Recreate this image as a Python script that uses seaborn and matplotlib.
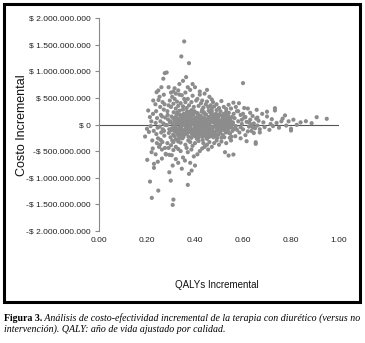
import matplotlib
matplotlib.use("Agg")
import matplotlib.pyplot as plt
import seaborn as sns
import pandas as pd
from matplotlib.patches import Rectangle
from matplotlib.ticker import FuncFormatter

# ---- data: (QALYs incremental, costo incremental in millones) ----
pts_left = [
    (0.192, -226), (0.201, -664), (0.2125, -1072), (0.22, -1378), (0.205, 263), (0.212, 140),
    (0.200, -81), (0.215, -30), (0.218, 60), (0.208, -140), (0.222, -300), (0.226, 451),
    (0.225, 200), (0.228, -120), (0.229, -739), (0.229, -814), (0.224, -450), (0.219, -520),
    (0.240, 607), (0.247, 639), (0.247, -1241), (0.235, 380), (0.238, 250), (0.242, 120),
    (0.236, 30), (0.244, -60), (0.239, -180), (0.246, -260), (0.241, -350), (0.250, -420),
    (0.236, -560), (0.252, 520), (0.255, 330), (0.258, 180), (0.256, 60), (0.253, -40),
    (0.259, -150), (0.257, -290), (0.254, -380), (0.262, -470), (0.268, 860), (0.274, 965),
    (0.282, 977), (0.265, 420), (0.270, 280), (0.263, 150), (0.268, 20), (0.266, -90),
    (0.272, -210), (0.264, -330), (0.275, -440), (0.278, -551), (0.279, -564), (0.270, 560),
    (0.276, 130), (0.277, -10), (0.248, 460), (0.245, -700), (0.260, 700), (0.262, -640),
    (0.273, 380), (0.271, -120),
]
pts_core = [
    (0.283, -12), (0.288, 95), (0.291, -160), (0.296, 40), (0.298, -240), (0.302, 150), (0.304, -70),
    (0.307, 10), (0.309, -190), (0.311, 230), (0.314, -120), (0.316, 70), (0.318, -30), (0.321, -280),
    (0.323, 180), (0.326, -90), (0.328, 110), (0.331, -210), (0.333, 20), (0.336, 260), (0.338, -150),
    (0.341, 60), (0.343, -50), (0.346, 140), (0.348, -260), (0.351, -110), (0.353, 200), (0.356, -10),
    (0.358, 90), (0.361, -180), (0.363, 30), (0.366, 240), (0.368, -70), (0.371, 150), (0.373, -230),
    (0.376, -20), (0.378, 100), (0.381, -140), (0.383, 50), (0.386, 270), (0.388, -90), (0.391, 10),
    (0.393, 180), (0.396, -200), (0.398, -40), (0.401, 120), (0.403, -120), (0.406, 60), (0.408, -270),
    (0.411, 210), (0.413, -10), (0.416, 90), (0.418, -160), (0.421, 30), (0.423, 160), (0.426, -80),
    (0.428, 240), (0.431, -220), (0.433, 0), (0.436, 110), (0.438, -130), (0.441, 50), (0.443, -50),
    (0.446, 190), (0.448, -190), (0.451, 80), (0.453, -20), (0.456, 140), (0.458, -110), (0.461, 20),
    (0.463, 230), (0.466, -160), (0.468, 60), (0.471, -60), (0.473, 170), (0.476, -240), (0.478, 100),
    (0.481, -30), (0.483, 40), (0.486, -140), (0.488, 200), (0.491, -80), (0.493, 10), (0.496, 130),
    (0.498, -190), (0.501, 70), (0.503, -40), (0.506, 250), (0.508, -110), (0.511, 30), (0.513, 160),
    (0.516, -200), (0.518, 90), (0.521, -60), (0.523, 0), (0.526, 180), (0.528, -150), (0.531, 50),
    (0.533, -20), (0.536, 110), (0.538, -90), (0.541, 220), (0.543, 20), (0.546, -170), (0.548, 70),
    (0.551, -50), (0.553, 140), (0.556, -120), (0.558, 40), (0.561, 200),
    (0.286, 180), (0.293, -90), (0.299, 60), (0.305, -300), (0.310, 120), (0.317, -50), (0.322, 30),
    (0.327, -170), (0.332, 190), (0.337, -100), (0.342, -20), (0.347, 70), (0.352, -230), (0.357, 150),
    (0.362, -60), (0.367, 80), (0.372, -300), (0.377, 190), (0.382, 0), (0.387, -170), (0.392, 100),
    (0.397, 250), (0.402, -80), (0.407, 20), (0.412, -200), (0.417, 170), (0.422, -40), (0.427, 70),
    (0.432, -290), (0.437, 230), (0.442, -110), (0.447, 10), (0.452, -170), (0.457, 260), (0.462, -70),
    (0.467, 150), (0.472, -200), (0.477, 40), (0.482, 120), (0.487, -40), (0.492, -250), (0.497, 70),
    (0.502, 190), (0.507, -130), (0.512, -10), (0.517, 120), (0.522, -240), (0.527, 60), (0.532, -110),
    (0.537, 170), (0.542, -60), (0.547, 100), (0.552, -230), (0.557, 10), (0.562, -80),
    (0.300, -110), (0.315, -220), (0.325, 90), (0.335, -260), (0.345, -160), (0.355, 60), (0.365, -130),
    (0.375, 50), (0.385, -250), (0.395, 40), (0.405, -150), (0.415, -90), (0.425, -190), (0.435, -60),
    (0.445, -230), (0.455, -60), (0.465, 90), (0.475, -120), (0.485, -200), (0.495, -10),
    (0.340, 130), (0.360, 170), (0.380, -80), (0.400, -220), (0.420, 100), (0.440, 120), (0.460, -230),
    (0.480, 190), (0.500, -70), (0.520, 100),
]
pts_dense = [
    (0.318, 130), (0.322, -140), (0.329, 40), (0.334, -60), (0.339, 180), (0.344, -200), (0.349, 10),
    (0.354, 110), (0.359, -90), (0.364, 200), (0.369, -160), (0.374, 120), (0.379, -40), (0.384, 160),
    (0.389, -200), (0.394, 80), (0.399, 20), (0.404, -180), (0.409, 140), (0.414, -60), (0.419, 60),
    (0.424, -130), (0.429, 130), (0.434, -20), (0.439, 200), (0.444, -170), (0.449, 30), (0.454, -120),
    (0.459, 90), (0.464, -30), (0.469, -110), (0.474, 80), (0.479, -160), (0.484, 150), (0.489, 0),
    (0.494, -110), (0.499, 160), (0.504, -160), (0.509, 80), (0.514, -70), (0.519, 200), (0.524, -110),
    (0.529, 130), (0.534, 60), (0.539, -150), (0.544, 120), (0.549, -10),
    (0.326, 230), (0.336, 90), (0.346, -110), (0.356, -160), (0.366, 20), (0.376, 240), (0.386, 90),
    (0.396, -120), (0.406, 220), (0.416, -240), (0.426, 20), (0.436, -160), (0.446, 90), (0.456, -200),
    (0.466, 210), (0.476, -50), (0.486, 90), (0.496, -60), (0.506, 20), (0.516, 50), (0.526, -40),
    (0.312, -60), (0.330, -320), (0.350, 280), (0.370, -110), (0.390, 220), (0.410, -40), (0.430, 280),
    (0.450, -270), (0.470, 250), (0.490, 270), (0.510, -250), (0.530, 240), (0.545, -250),
]
pts_upper = [
    (0.285, 250), (0.290, 360), (0.295, 450), (0.300, 330), (0.305, 520), (0.310, 390), (0.315, 480),
    (0.320, 300), (0.325, 430), (0.330, 350), (0.335, 560), (0.340, 400), (0.345, 550), (0.350, 340),
    (0.355, 480), (0.360, 420), (0.365, 310), (0.370, 480), (0.375, 360), (0.380, 650), (0.385, 420),
    (0.390, 540), (0.395, 330), (0.400, 700), (0.405, 450), (0.410, 480), (0.415, 350), (0.420, 620),
    (0.425, 400), (0.430, 450), (0.435, 320), (0.440, 580), (0.445, 380), (0.450, 430), (0.455, 330),
    (0.460, 520), (0.465, 360), (0.470, 300), (0.475, 420), (0.480, 340), (0.490, 380), (0.500, 310),
    (0.510, 440), (0.520, 330), (0.530, 290), (0.540, 370), (0.550, 300), (0.560, 410),
    (0.300, 600), (0.310, 620), (0.320, 580), (0.330, 640), (0.290, 700), (0.335, 760), (0.350, 820),
    (0.343, 1278), (0.355, 1560), (0.363, 890), (0.375, 1152), (0.360, 600), (0.390, 760), (0.420, 560),
    (0.450, 650), (0.470, 470), (0.315, 680), (0.370, 700),
]
pts_lower = [
    (0.285, -350), (0.290, -440), (0.300, -390), (0.310, -480), (0.320, -420), (0.330, -460),
    (0.340, -500), (0.350, -620), (0.293, -570), (0.303, -577), (0.360, -380), (0.370, -520),
    (0.380, -330), (0.385, -470), (0.390, -400), (0.395, -600), (0.400, -350), (0.410, -560),
    (0.420, -500), (0.430, -450), (0.440, -420), (0.450, -380), (0.460, -330), (0.470, -420),
    (0.480, -350), (0.490, -300), (0.500, -380), (0.510, -320), (0.525, -520), (0.540, -583),
    (0.560, -564), (0.530, -350), (0.550, -300), (0.345, -830), (0.330, -720), (0.320, -650),
    (0.358, -677), (0.380, -720), (0.299, -1053), (0.293, -897), (0.307, -771), (0.310, -1410),
    (0.307, -1510), (0.375, -927), (0.386, -865), (0.400, -771), (0.370, -1134),
    (0.310, -330), (0.340, -340), (0.365, -440), (0.415, -310), (0.435, -350), (0.455, -470),
]
pts_right = [
    (0.565, 120), (0.570, -30), (0.575, 250), (0.580, 60), (0.585, -150), (0.590, 180), (0.595, 10),
    (0.600, -90), (0.605, 130), (0.610, -200), (0.615, 50), (0.620, 300), (0.625, -40), (0.630, 90),
    (0.635, -120), (0.640, 160), (0.645, 20), (0.650, -70), (0.655, 110), (0.660, -20),
    (0.583, 400), (0.600, 777), (0.615, -314), (0.653, -333), (0.653, -363), (0.657, 276),
    (0.580, 250), (0.600, 200), (0.570, 330), (0.590, -260), (0.620, -130), (0.630, 220),
    (0.640, -50), (0.575, -100), (0.595, 90), (0.610, 140), (0.625, 40), (0.645, -160),
    (0.665, 70), (0.670, -90), (0.568, -220), (0.605, 310), (0.590, -50), (0.635, 0), (0.660, 130),
]
pts_tail = [
    (0.733, 306), (0.733, 263), (0.775, 170), (0.800, -80), (0.800, -113), (0.680, 200), (0.700, 150),
    (0.720, 100), (0.690, -50), (0.710, -100), (0.740, 30), (0.760, 60), (0.780, -20), (0.670, -150),
    (0.750, -60), (0.700, 240), (0.685, 40), (0.715, 10), (0.725, -30), (0.765, 110), (0.824, -6),
    (0.862, 62), (0.886, 25), (0.907, 138), (0.949, 107), (0.840, 40), (0.810, 90), (0.790, 60),
]

y_ticks = [-2e9, -1.5e9, -1e9, -5e8, 0, 5e8, 1e9, 1.5e9, 2e9]
x_ticks = [0.0, 0.2, 0.4, 0.6, 0.8, 1.0]
x_label = "QALYs Incremental"
y_label = "Costo Incremental"
caption_bold = "Figura 3."
caption_line1 = " Análisis de costo-efectividad incremental de la terapia con diurético (versus no"
caption_line2 = "intervención). QALY: año de vida ajustado por calidad."

all_pts = pts_left + pts_core + pts_dense + pts_upper + pts_lower + pts_right + pts_tail
df = pd.DataFrame({"qaly": [p[0] for p in all_pts],
                   "costo": [p[1] * 1e6 for p in all_pts]})

sns.set_style("white")
plt.rcParams['font.family'] = ['Liberation Sans', 'DejaVu Sans']

W, H = 365, 343
fig = plt.figure(figsize=(W / 100, H / 100), dpi=100)
ax = fig.add_axes([99 / W, 112 / H, 240 / W, 213 / H])

sns.scatterplot(data=df, x="qaly", y="costo", ax=ax, color="#8c8c8c",
                s=9, linewidth=0, edgecolor="none", zorder=3)
ax.axhline(0, color="#555555", lw=0.8, zorder=2)

ax.set_xlim(0, 1)
ax.set_ylim(-2e9, 2e9)
ax.set_yticks(y_ticks)
ax.set_xticks(x_ticks)
ax.set_xticklabels([f"{v:.2f}" for v in x_ticks])


def fmt(v, pos):
    v = int(round(v))
    s = f"{abs(v):,}".replace(",", ".")
    return ("-$ " if v < 0 else "$ ") + s


ax.yaxis.set_major_formatter(FuncFormatter(fmt))
for side in ["top", "right", "bottom"]:
    ax.spines[side].set_visible(False)
ax.spines["left"].set_color("#8a8a8a")
ax.spines["left"].set_linewidth(0.8)
ax.tick_params(axis="y", length=3, width=0.8, color="#8a8a8a", pad=3,
               labelsize=6.1, labelcolor="#222222", left=True)
ax.tick_params(axis="x", length=0, pad=4, labelsize=6, labelcolor="#222222")
ax.set_xlabel("")
ax.set_ylabel("")

fig.text(22 / W, 1 - 125 / H, y_label, rotation=90, ha="center", va="center",
         fontsize=9, color="#111111")
fig.text(217 / W, 1 - 285 / H, x_label, ha="center", va="center",
         fontsize=7, color="#111111")

# frame
fig.patches.append(Rectangle((3.5 / W, 1 - 301.5 / H), (360 - 3.5) / W, (301.5 - 3.5) / H,
                             transform=fig.transFigure, fill=False, edgecolor="black",
                             linewidth=2.2))

# caption
r = fig.canvas.get_renderer()
cap_kw = dict(fontsize=7.1, color="black", va="baseline", family=["Liberation Serif", "DejaVu Serif"])
t1 = fig.text(4 / W, 1 - 321 / H, caption_bold, fontweight="bold", **cap_kw)
bb = t1.get_window_extent(r)
fig.text(bb.x1 / W, 1 - 321 / H, caption_line1, style="italic", **cap_kw)
fig.text(4 / W, 1 - 332 / H, caption_line2, style="italic", **cap_kw)

fig.savefig("out.png", dpi=100)
